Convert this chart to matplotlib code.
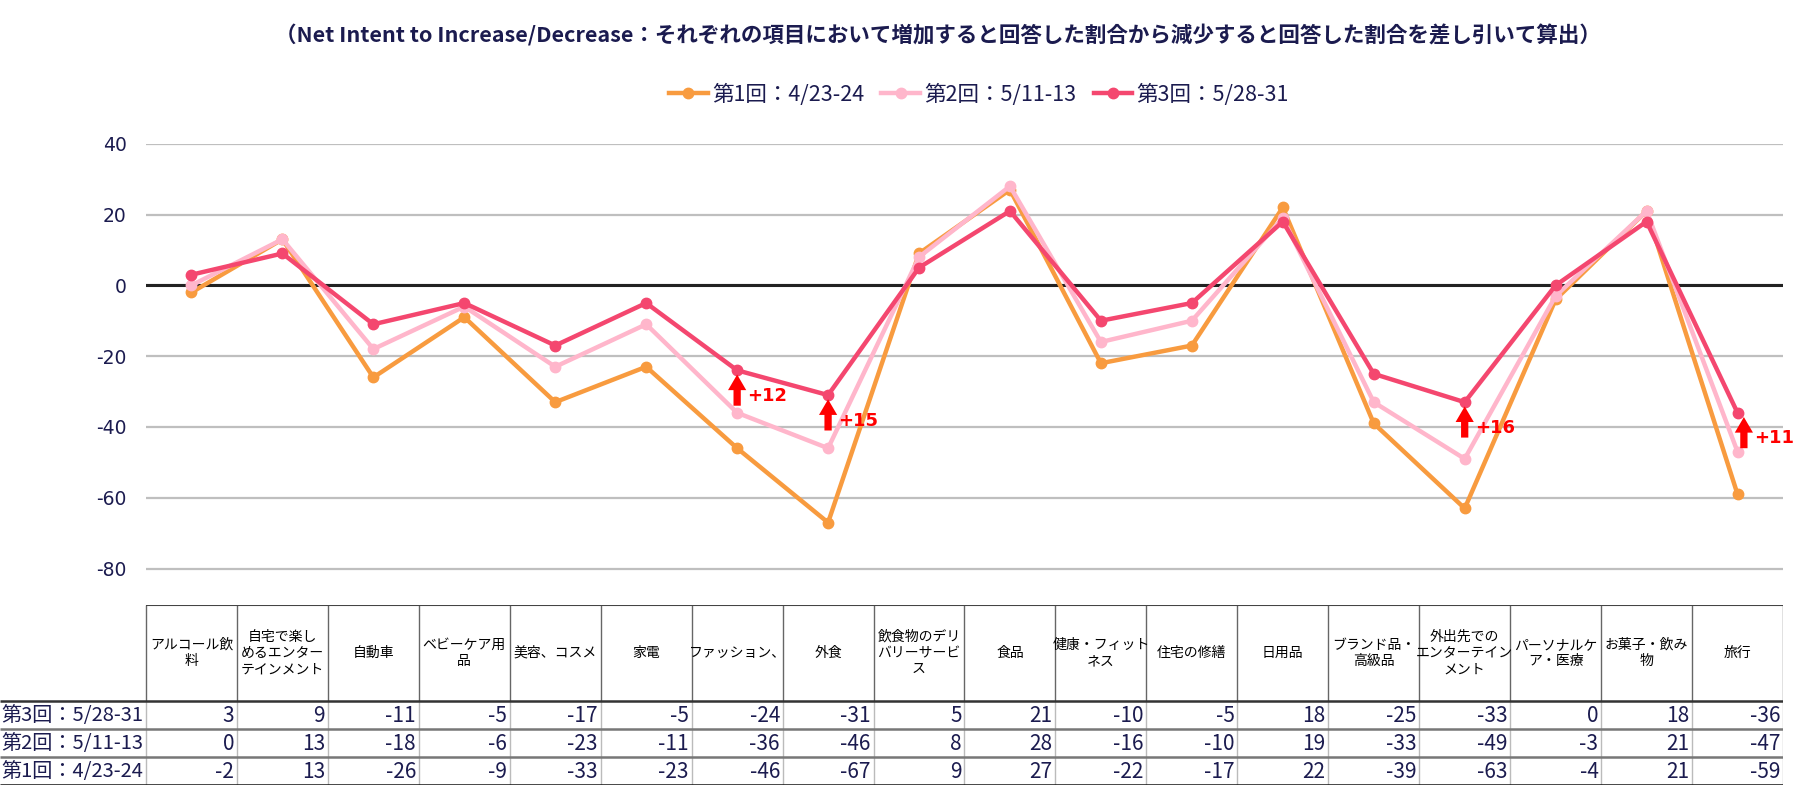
import numpy as np
import matplotlib.pyplot as plt

plt.rcParams['font.family'] = ['Noto Sans CJK JP', 'DejaVu Sans']
plt.rcParams['axes.unicode_minus'] = False

# categories (header text wrapped as in the original table)
categories = ["アルコール飲\n料", "自宅で楽し\nめるエンター\nテインメント", "自動車",
              "ベビーケア用\n品", "美容、コスメ", "家電", "ファッション、", "外食",
              "飲食物のデリ\nバリーサービ\nス", "食品", "健康・フィット\nネス", "住宅の修繕",
              "日用品", "ブランド品・\n高級品", "外出先での\nエンターテイン\nメント",
              "パーソナルケ\nア・医療", "お菓子・飲み\n物", "旅行"]

round1 = [-2, 13, -26, -9, -33, -23, -46, -67, 9, 27, -22, -17, 22, -39, -63, -4, 21, -59]
round2 = [0, 13, -18, -6, -23, -11, -36, -46, 8, 28, -16, -10, 19, -33, -49, -3, 21, -47]
round3 = [3, 9, -11, -5, -17, -5, -24, -31, 5, 21, -10, -5, 18, -25, -33, 0, 18, -36]

series_names = ["第1回：4/23-24", "第2回：5/11-13", "第3回：5/28-31"]
colors = ["#F89B3F", "#FFB6CB", "#F4476F"]

highlight = [6, 7, 14, 17]
arrow_shift = [0, 0, 0, 0.07]

title = "（Net Intent to Increase/Decrease：それぞれの項目において増加すると回答した割合から減少すると回答した割合を差し引いて算出）"

W, H = 1807, 797
navy = "#1B1B4F"

fig = plt.figure(figsize=(W / 100, H / 100), dpi=100)

# main chart
ax = fig.add_axes([146 / W, (H - 604) / H, (1783 - 146) / W, (604 - 143.7) / H])
x = np.arange(len(round1))
for vals, name, c in zip([round1, round2, round3], series_names, colors):
    ax.plot(x, vals, color=c, lw=3.2, marker='o', ms=7.5, label=name, solid_joinstyle='round')

ax.set_xlim(-0.5, len(x) - 0.5)
ax.set_ylim(-90, 40)
ax.set_yticks(np.arange(-80, 41, 20))
ax.set_xticks([])
ax.grid(axis='y', color='#BFBFBF', lw=1.6)
ax.set_axisbelow(True)
ax.axhline(0, color='#222222', lw=2.2, zorder=1.5)
for s in ax.spines.values():
    s.set_visible(False)
ax.tick_params(axis='y', length=0, pad=14, labelsize=13.5, labelcolor=navy)
for lab in ax.get_yticklabels():
    lab.set_family('DejaVu Sans')

# arrows showing change from round 2 to round 3
for i, dx in zip(highlight, arrow_shift):
    v = round3[i]
    ax.arrow(i + dx, v - 10, 0, 8.8, width=0.08, head_width=0.2, head_length=4.4,
             length_includes_head=True, color='#FF0000', lw=0, zorder=5)
    ax.text(i + dx + 0.11, v - 7.2, "+%d" % (round3[i] - round2[i]), color='#FF0000',
            fontsize=13, fontweight='bold', family='DejaVu Sans', va='center', ha='left')

fig.text(938 / W, 1 - 35 / H, title, ha='center', va='center', fontsize=15.5,
         fontweight='bold', color=navy)

leg = ax.legend(loc='center', bbox_to_anchor=(979 / W, 1 - 94.5 / H), bbox_transform=fig.transFigure,
                ncol=3, frameon=False, fontsize=15.5, handlelength=1.8, columnspacing=0.8,
                handletextpad=0.2)
for t in leg.get_texts():
    t.set_color(navy)

# data table
tx = fig.add_axes([0, (H - 785) / H, 1783 / W, (785 - 605) / H])
left = -0.5 - 146 / ((1783 - 146) / 18)
tx.set_xlim(left, len(x) - 0.5)
tx.set_ylim(180, 0)
tx.axis('off')

row_edges = [0, 96, 124, 152, 180]
rows = [round3, round2, round1]
row_names = series_names[::-1]

for i, cat in enumerate(categories):
    tx.text(i, 48, cat, ha='center', va='center', fontsize=10, color='black', linespacing=1.2)
    for r, vals in enumerate(rows):
        tx.text(i + 0.47, (row_edges[r + 1] + row_edges[r + 2]) / 2 + 1, str(vals[i]),
                ha='right', va='center', fontsize=15, color=navy)
for r, name in enumerate(row_names):
    tx.text(left + 0.02, (row_edges[r + 1] + row_edges[r + 2]) / 2 + 1, name,
            ha='left', va='center', fontsize=14.5, color=navy)

# table lines
edges = np.arange(len(x) + 1) - 0.5
tx.vlines(edges, 0, 96, color='#666666', lw=1)
tx.vlines(edges, 96, 180, color='#BBBBBB', lw=1)
tx.hlines(0, -0.5, len(x) - 0.5, color='#444444', lw=1.5)
tx.hlines(96, left, len(x) - 0.5, color='#333333', lw=1.8)
tx.hlines([124, 152], left, len(x) - 0.5, color='#777777', lw=1.8)
tx.hlines(179.5, left, len(x) - 0.5, color='#111111', lw=1.8)

fig.savefig('out.png', dpi=100)
